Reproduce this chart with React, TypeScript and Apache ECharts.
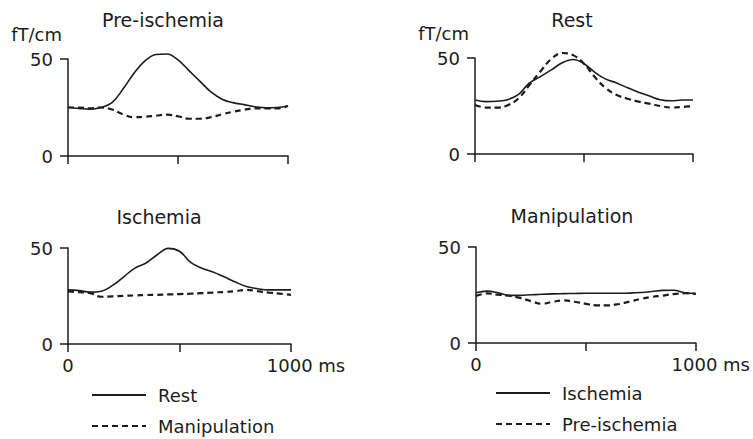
import React, { useEffect, useRef } from "react";
import * as echarts from "echarts";

const times = [0, 50, 100, 150, 200, 250, 300, 350, 400, 450, 500, 550, 600, 650, 700, 750, 800, 850, 900, 950, 1000];

// Panel 1: Pre-ischemia
const preRest = [25.1, 24.5, 24.1, 25, 27.5, 34.5, 42.7, 49, 52.3, 52.6, 49.5, 44, 38.5, 33, 29.3, 27.5, 26.5, 25.4, 24.8, 25, 25.8];
const preManip = [25, 25, 24.5, 25, 24, 21.5, 20, 20.2, 20.8, 21.3, 20.5, 19.2, 19.2, 20, 21.5, 22.8, 23.8, 24.6, 24.6, 24.5, 25.8];
// Panel 2: Ischemia
const ischRest = [28.2, 27.8, 27, 27.5, 30.5, 35, 39.5, 42.2, 46.5, 49.8, 48.3, 42.5, 39.5, 37.5, 35, 32.3, 30, 28.8, 28.2, 28.2, 28.2];
const ischManip = [27.4, 27, 26.5, 24.6, 24.8, 25.1, 25.3, 25.5, 25.6, 25.8, 26, 26.2, 26.5, 26.8, 27.1, 27.5, 28.2, 27.5, 26.8, 26.2, 25.6];
// Panel 3: Rest
const restIsch = [28.1, 27.3, 27.5, 28.3, 31, 37, 40.3, 43.8, 47.5, 49.2, 47, 42.5, 39, 37, 34.5, 32.2, 30.2, 28.3, 27.7, 28.1, 28.1];
const restPre = [25.5, 24.2, 24.2, 25.4, 29, 36, 43, 49.5, 52.6, 51.5, 47, 40, 34.3, 30.7, 28.8, 27.3, 26.2, 25, 24.2, 24.5, 25];
// Panel 4: Manipulation
const manipIsch = [26.2, 27, 26.2, 24.8, 24.8, 25.1, 25.4, 25.6, 25.7, 25.8, 25.9, 25.9, 25.9, 25.9, 26, 26.3, 26.8, 27.4, 27.5, 26.2, 25.9];
const manipPre = [24.5, 25.8, 25.2, 24.6, 23.5, 21.8, 20.4, 21.5, 22.2, 21.5, 20.4, 19.6, 19.6, 20.3, 21.6, 23, 24, 24.7, 25.5, 25.9, 25.5];

const panelTitles = ["Pre-ischemia", "Ischemia", "Rest", "Manipulation"];
const yTicks = [0, 50];
const xTicks = [0, 500, 1000];
const unitY = "fT/cm";
const unitX = "ms";

const FONT = "DejaVu Sans";
const INK = "#1c1c1c";

export default function App() {
  const ref = useRef<HTMLDivElement>(null);
  useEffect(() => {
    if (!ref.current) return;
    const chart = echarts.init(ref.current, undefined, { renderer: "svg" });
    const grids = [
      { left: 68, top: 59, width: 220, height: 97 },
      { left: 68, top: 248, width: 223, height: 96 },
      { left: 475, top: 58, width: 218, height: 96 },
      { left: 476, top: 247, width: 220, height: 96 },
    ];
    const showX = [false, true, false, true];
    const showName = [true, false, true, false];
    const axisLine = { lineStyle: { color: INK, width: 1.5 } };
    const xAxis = grids.map((_, i) => ({
      type: "value",
      gridIndex: i,
      min: xTicks[0],
      max: xTicks[xTicks.length - 1],
      interval: xTicks[1] - xTicks[0],
      axisLine,
      axisTick: { show: true, length: 8, lineStyle: { color: INK, width: 1.5 } },
      splitLine: { show: false },
      axisLabel: {
        show: showX[i],
        margin: 12,
        formatter: (v: number) => (v === 0 ? "{z|0}" : v === 1000 ? "{e|1000 " + unitX + "}" : ""),
        rich: {
          z: { fontFamily: FONT, fontSize: 18, color: INK },
          e: { fontFamily: FONT, fontSize: 18, color: INK, padding: [0, 0, 0, 30] },
        },
      },
    }));
    const yAxis = grids.map((_, i) => ({
      type: "value",
      gridIndex: i,
      min: yTicks[0],
      max: yTicks[1],
      interval: yTicks[1] - yTicks[0],
      name: showName[i] ? unitY : "",
      nameLocation: "end",
      nameGap: 16,
      nameTextStyle: { fontFamily: FONT, fontSize: 18, color: INK, align: "right", padding: [0, 6, 0, 0] },
      axisLine: { show: true, lineStyle: { color: INK, width: 1.5 } },
      axisTick: { show: true, length: 8, lineStyle: { color: INK, width: 1.5 } },
      splitLine: { show: false },
      axisLabel: { margin: 15, fontFamily: FONT, fontSize: 18, color: INK },
    }));
    const mk = (name: string, vals: number[], idx: number, dashed: boolean) => ({
      type: "line",
      name,
      xAxisIndex: idx,
      yAxisIndex: idx,
      data: times.map((t, k) => [t, vals[k]]),
      smooth: 0.4,
      symbol: "none",
      clip: false,
      itemStyle: { color: INK },
      lineStyle: dashed
        ? { color: INK, width: 2.2, type: [6, 4] }
        : { color: INK, width: 1.6, type: "solid" },
      z: dashed ? 3 : 2,
    });
    const series = [
      mk("Rest", preRest, 0, false),
      mk("Manipulation", preManip, 0, true),
      mk("Rest", ischRest, 1, false),
      mk("Manipulation", ischManip, 1, true),
      mk("Ischemia", restIsch, 2, false),
      mk("Pre-ischemia", restPre, 2, true),
      mk("Ischemia", manipIsch, 3, false),
      mk("Pre-ischemia", manipPre, 3, true),
    ];
    const titleCenters = [
      [163, 10],
      [159, 207],
      [572, 10],
      [572, 206],
    ];
    const legendCommon = {
      orient: "vertical",
      itemWidth: 54,
      itemHeight: 14,
      itemGap: 13,
      padding: 0,
      height: 90,
      itemStyle: { opacity: 0 },
      textStyle: { fontFamily: FONT, fontSize: 18, color: INK, padding: [0, 0, 0, 7] },
      selectedMode: false,
    };
    chart.setOption({
      animation: false,
      backgroundColor: "#fff",
      title: panelTitles.map((t, i) => ({
        text: t,
        left: titleCenters[i][0],
        top: titleCenters[i][1],
        textAlign: "center",
        padding: 0,
        textStyle: { fontFamily: FONT, fontSize: 19, fontWeight: "normal", color: INK },
      })),
      grid: grids,
      xAxis,
      yAxis,
      legend: [
        { ...legendCommon, left: 91, top: 386, data: ["Rest", "Manipulation"] },
        { ...legendCommon, left: 495, top: 384, data: ["Ischemia", "Pre-ischemia"] },
      ],
      series,
    });
    return () => chart.dispose();
  }, []);
  return (
    <div
      ref={ref}
      style={{ position: "fixed", left: 0, top: 0, width: 753, height: 439 }}
    />
  );
}
